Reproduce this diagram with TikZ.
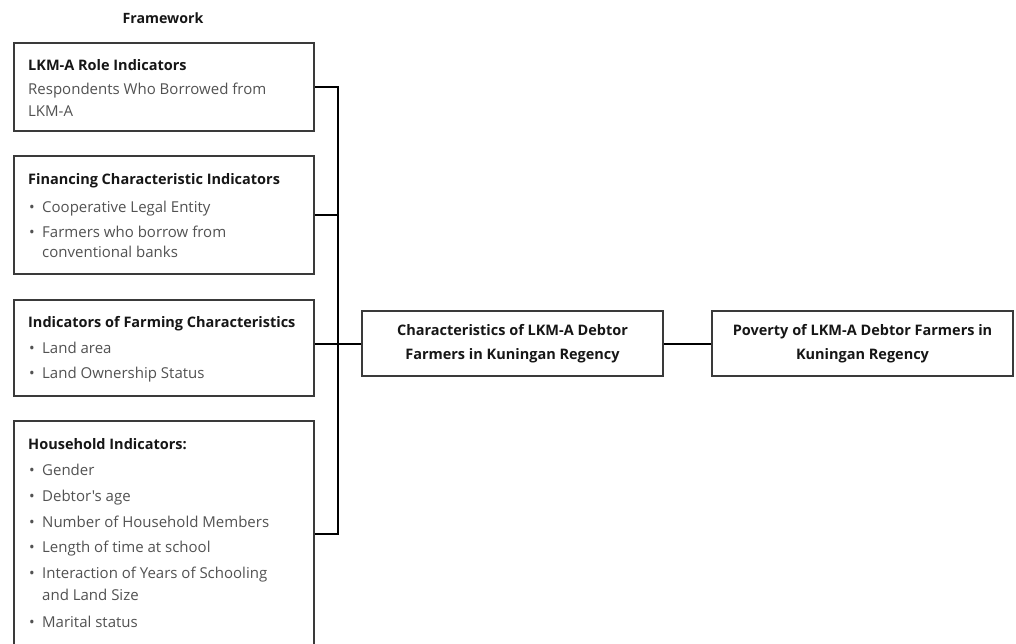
\documentclass[tikz,border=0pt]{standalone}
\usepackage{fontspec}
\setmainfont{Open Sans}[Ligatures=TeXOff]
\definecolor{boxc}{HTML}{3A3A3A}
\definecolor{titlec}{HTML}{161616}
\definecolor{bodyc}{HTML}{525252}
\begin{document}
\begin{tikzpicture}[x=1pt,y=-1pt,
  box/.style={draw=boxc, line width=2pt, rectangle, inner sep=0pt, anchor=north west, minimum width=300pt},
  cbox/.style={draw=boxc, line width=2pt, rectangle, inner sep=0pt, minimum width=301pt, minimum height=65pt,
    align=center, text=titlec, font=\fontsize{14.5}{24}\selectfont\bfseries},
  ttl/.style={anchor=base west, inner sep=0pt, text=titlec, font=\fontsize{14.5}{16}\selectfont\bfseries},
  bodytxt/.style={anchor=base west, inner sep=0pt, text=bodyc, font=\fontsize{15}{16}\selectfont},
  conn/.style={draw=black, line width=2pt}
]
\useasboundingbox (0,0) rectangle (1016,643);
\clip (0,0) rectangle (1016,643);
\fill[white] (0,0) rectangle (1016,643);

\node[anchor=base, inner sep=0pt, text=titlec, font=\fontsize{14.2}{16}\selectfont\bfseries] (fw) at (163,23) {Framework};

% boxes
\node[box, minimum height=88pt] (b1) at (13,42) {};
\node[box, minimum height=118pt] (b2) at (13,155) {};
\node[box, minimum height=96pt] (b3) at (13,299) {};
\node[box, minimum height=225pt] (b4) at (13,420) {};
\node[cbox] (mid) at (512.5,343.5) {Characteristics of LKM-A Debtor\\Farmers in Kuningan Regency};
\node[cbox] (res) at (862.5,343.5) {Poverty of LKM-A Debtor Farmers in\\Kuningan Regency};

% box 1
\node[ttl] (t1) at (28,70) {LKM-A Role Indicators};
\node[bodytxt] (l11) at (28,94) {Respondents Who Borrowed from};
\node[bodytxt] (l12) at (28,116) {LKM-A};

% box 2
\node[ttl] (t2) at (28,184) {Financing Characteristic Indicators};
\node[bodytxt] (l21) at (29,212) {\makebox[13pt][l]{•}Cooperative Legal Entity};
\node[bodytxt] (l22) at (29,237) {\makebox[13pt][l]{•}Farmers who borrow from};
\node[bodytxt] (l23) at (42,257) {conventional banks};

% box 3
\node[ttl] (t3) at (28,327) {Indicators of Farming Characteristics};
\node[bodytxt] (l31) at (29,353) {\makebox[13pt][l]{•}Land area};
\node[bodytxt] (l32) at (29,378) {\makebox[13pt][l]{•}Land Ownership Status};

% box 4
\node[ttl] (t4) at (28,449) {Household Indicators:};
\node[bodytxt] (l41) at (29,475) {\makebox[13pt][l]{•}Gender};
\node[bodytxt] (l42) at (29,501) {\makebox[13pt][l]{•}Debtor's age};
\node[bodytxt] (l43) at (29,527) {\makebox[13pt][l]{•}Number of Household Members};
\node[bodytxt] (l44) at (29,552) {\makebox[13pt][l]{•}Length of time at school};
\node[bodytxt] (l45) at (29,578) {\makebox[13pt][l]{•}Interaction of Years of Schooling};
\node[bodytxt] (l46) at (42,600) {and Land Size};
\node[bodytxt] (l47) at (29,627) {\makebox[13pt][l]{•}Marital status};

% connectors
\coordinate (busx) at (338,0);
\draw[conn] (b1.east) -- (b1.east -| busx) -- (b4.east -| busx) -- (b4.east);
\draw[conn] (b2.east) -- (b2.east -| busx);
\draw[conn] (b3.east |- mid.west) -- (mid.west);
\draw[conn] (mid.east) -- (res.west);
\end{tikzpicture}
\end{document}
